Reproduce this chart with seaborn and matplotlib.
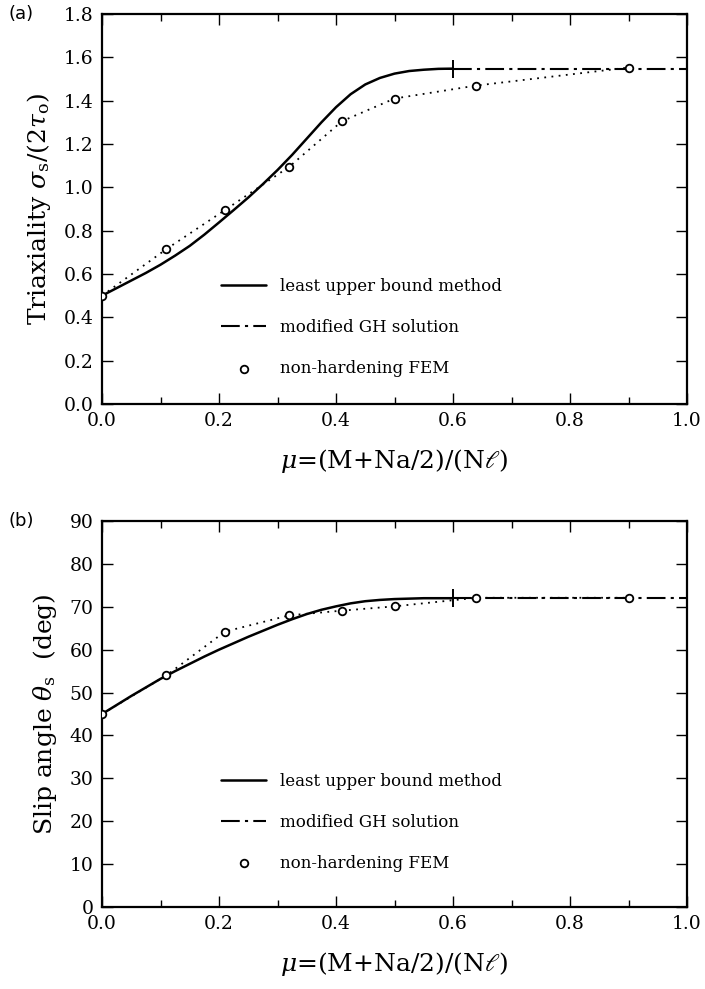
import matplotlib
matplotlib.use("Agg")
import matplotlib.pyplot as plt
import seaborn as sns
import pandas as pd
from matplotlib.ticker import MultipleLocator

# --- data ---
mu_lub = [0.000, 0.025, 0.050, 0.075, 0.100, 0.125, 0.150, 0.175, 0.200,
          0.225, 0.250, 0.275, 0.300, 0.325, 0.350, 0.375, 0.400, 0.425,
          0.450, 0.475, 0.500, 0.525, 0.550, 0.575, 0.600]
triax_lub = [0.500, 0.535, 0.570, 0.605, 0.643, 0.685, 0.730, 0.782, 0.838,
             0.895, 0.953, 1.015, 1.080, 1.150, 1.225, 1.300, 1.370, 1.430,
             1.475, 1.505, 1.525, 1.537, 1.543, 1.547, 1.548]
slip_lub = [45.0, 47.1, 49.2, 51.2, 53.2, 55.0, 56.7, 58.4, 60.0,
            61.5, 63.0, 64.4, 65.8, 67.1, 68.3, 69.3, 70.1, 70.8,
            71.3, 71.6, 71.8, 71.9, 72.0, 72.0, 72.0]

mu_gh = [0.60, 1.00]
triax_gh = [1.548, 1.548]
slip_gh = [72.0, 72.0]

mu_fem = [0.0, 0.11, 0.21, 0.32, 0.41, 0.50, 0.64, 0.90]
triax_fem = [0.50, 0.715, 0.895, 1.095, 1.305, 1.41, 1.47, 1.553]
slip_fem = [45.0, 54.0, 64.2, 68.0, 69.1, 70.1, 72.1, 72.1]

panels = [
    dict(tag="(a)", y_lub=triax_lub, y_gh=triax_gh, y_fem=triax_fem,
         ylim=(0, 1.8), ystep=0.2, yfmt="{:.1f}",
         ylabel=r"Triaxiality $\sigma_{\rm s}/(2\tau_{\rm o})$", leg_top=0.345),
    dict(tag="(b)", y_lub=slip_lub, y_gh=slip_gh, y_fem=slip_fem,
         ylim=(0, 90), ystep=10, yfmt="{:.0f}",
         ylabel=r"Slip angle $\theta_{\rm s}$  (deg)", leg_top=0.37),
]

sns.set_style("ticks")
plt.rcParams["font.family"] = ["DejaVu Serif"]
plt.rcParams["mathtext.fontset"] = "dejavuserif"
plt.rcParams["text.color"] = "black"
plt.rcParams["axes.labelcolor"] = "black"
plt.rcParams["xtick.color"] = "black"
plt.rcParams["ytick.color"] = "black"
plt.rcParams["axes.edgecolor"] = "black"

fig = plt.figure(figsize=(7.05, 9.89), dpi=100)
rects = [[0.1447, 0.5915, 0.8298, 0.3943], [0.1447, 0.0829, 0.8298, 0.3903]]

for rect, p in zip(rects, panels):
    ax = fig.add_axes(rect)
    lub = pd.DataFrame({"mu": mu_lub, "val": p["y_lub"]})
    gh = pd.DataFrame({"mu": mu_gh, "val": p["y_gh"]})
    fem = pd.DataFrame({"mu": mu_fem, "val": p["y_fem"]})

    sns.lineplot(data=lub, x="mu", y="val", ax=ax, color="black", lw=1.8,
                 sort=False, estimator=None, label="least upper bound method")
    sns.lineplot(data=gh, x="mu", y="val", ax=ax, color="black", lw=1.5,
                 linestyle=(0, (9, 2.5, 1.5, 2.5)), sort=False, estimator=None,
                 label="modified GH solution")
    # dotted guide through the FEM points
    sns.lineplot(data=fem, x="mu", y="val", ax=ax, color="black", lw=1.3,
                 linestyle=(0, (1, 3)), sort=False, estimator=None)
    sns.scatterplot(data=fem, x="mu", y="val", ax=ax, marker="o", s=30,
                    facecolor="white", edgecolor="black", linewidth=1.3,
                    zorder=5, label="non-hardening FEM")
    # junction of the two analytical solutions
    ax.plot(mu_gh[:1], p["y_gh"][:1], marker="+", ms=13, mew=1.4,
            color="black", zorder=6)

    ax.set_xlim(0, 1)
    ax.set_ylim(*p["ylim"])
    ax.xaxis.set_major_locator(MultipleLocator(0.2))
    ax.xaxis.set_minor_locator(MultipleLocator(0.1))
    ax.yaxis.set_major_locator(MultipleLocator(p["ystep"]))
    ax.set_xticklabels([f"{t:.1f}" for t in ax.get_xticks()])
    ax.set_yticklabels([p["yfmt"].format(t) for t in ax.get_yticks()])
    ax.tick_params(which="both", direction="in", top=True, right=True,
                   labelsize=13.5, width=1.0)
    ax.tick_params(which="major", length=8, pad=6)
    ax.tick_params(which="minor", length=5)
    for s in ax.spines.values():
        s.set_linewidth(1.6)

    ax.set_xlabel(r"$\mu$=(M+Na/2)/(N$\ell$)", fontsize=18, labelpad=12)
    ax.set_ylabel(p["ylabel"], fontsize=18, labelpad=8)

    h, l = ax.get_legend_handles_labels()
    ax.legend(h, l, loc="upper left", bbox_to_anchor=(0.19, p["leg_top"]),
              frameon=False, fontsize=12, handlelength=2.7,
              handletextpad=0.8, labelspacing=1.45, borderpad=0)

    fig.text(0.012, rect[1] + rect[3], p["tag"], family="DejaVu Sans",
             fontsize=13, va="center", ha="left")

fig.savefig("out.png", dpi=100)
